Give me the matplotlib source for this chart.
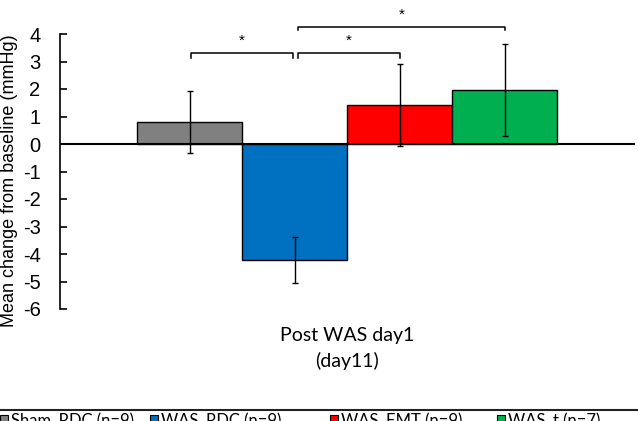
import numpy as np
import matplotlib
matplotlib.use('Agg')
import matplotlib.pyplot as plt
from matplotlib.patches import Rectangle

plt.rcParams['axes.unicode_minus'] = False

# data
groups = ['Sham_RDC', 'WAS_RDC', 'WAS_EMT', 'WAS_t']
n_sizes = [9, 9, 9, 7]
means = [0.80, -4.22, 1.42, 1.96]
errs = [1.12, 0.83, 1.50, 1.66]
colors = ['#808080', '#0070C0', '#FF0000', '#00B050']
xlabel = 'Post WAS day1\n(day11)'
# significance pairs (bar indices)
sig_pairs = [(0, 1), (1, 2), (1, 3)]

fig = plt.figure(figsize=(6.38, 4.21), dpi=100)
ax = fig.add_axes([60/638, (421-309)/421, 575/638, 275/421])

x = np.arange(len(means))
ax.bar(x, means, width=1.0, color=colors, edgecolor='black', linewidth=1.0, zorder=2)
ax.errorbar(x, means, yerr=errs, fmt='none', ecolor='black', elinewidth=1.0,
            capsize=2.5, capthick=1.0, zorder=3)
ax.axhline(0, color='black', lw=1.5, zorder=4)

ax.set_xlim((60-189.5)/105, (635-189.5)/105)
ax.set_ylim(-6, 4)
ax.set_yticks(np.arange(-6, 5, 1))
ax.spines['left'].set_bounds(-6, 4)
for s in ['top', 'right', 'bottom']:
    ax.spines[s].set_visible(False)
ax.spines['left'].set_linewidth(1.2)
ax.tick_params(axis='y', direction='in', length=5, width=1.2, pad=14,
               labelsize=14.5)
for t in ax.get_yticklabels():
    t.set_fontfamily('Liberation Sans')
ax.set_ylabel('Mean change from baseline (mmHg)', fontsize=13,
              family='Liberation Sans')
ax.yaxis.set_label_coords(-0.073, 0.465)

ax.set_xticks([1.5])
ax.set_xticklabels([xlabel], fontsize=14, family='Lato', linespacing=1.55)
ax.tick_params(axis='x', length=0, pad=13)

# significance brackets
levels = [3.31, 3.31, 4.25]
drops = [0.18, 0.18, 0.12]
offs = [(0.015, -0.015), (0.035, 0.0), (0.035, 0.0)]
for (a, b), lvl, d, (oa, ob) in zip(sig_pairs, levels, drops, offs):
    xa, xb = a + oa, b + ob
    ax.plot([xa, xa, xb, xb], [lvl - d, lvl, lvl, lvl - d], color='black',
            lw=1.1, clip_on=False)
    ax.text((xa + xb) / 2, lvl + 0.2, '*', ha='center', va='bottom',
            fontsize=11, family='Liberation Sans', clip_on=False)

# legend at the bottom (cut by the figure edge, as in the reference)
fig.add_artist(plt.Line2D([0, 1], [(421-410)/421]*2, color='#222222', lw=1.5,
                          transform=fig.transFigure))
leg_x = [0, 150, 330, 497]
for lx, g, n, c in zip(leg_x, groups, n_sizes, colors):
    fig.add_artist(Rectangle((lx/638, (421-424)/421), 8/638, 9/421,
                             facecolor=c, edgecolor='black', lw=0.8,
                             transform=fig.transFigure))
    fig.text((lx + 11)/638, (421-413)/421, '%s (n=%d)' % (g, n), ha='left',
             va='top', fontsize=12, family='Lato')

fig.savefig('out.png', dpi=100)
